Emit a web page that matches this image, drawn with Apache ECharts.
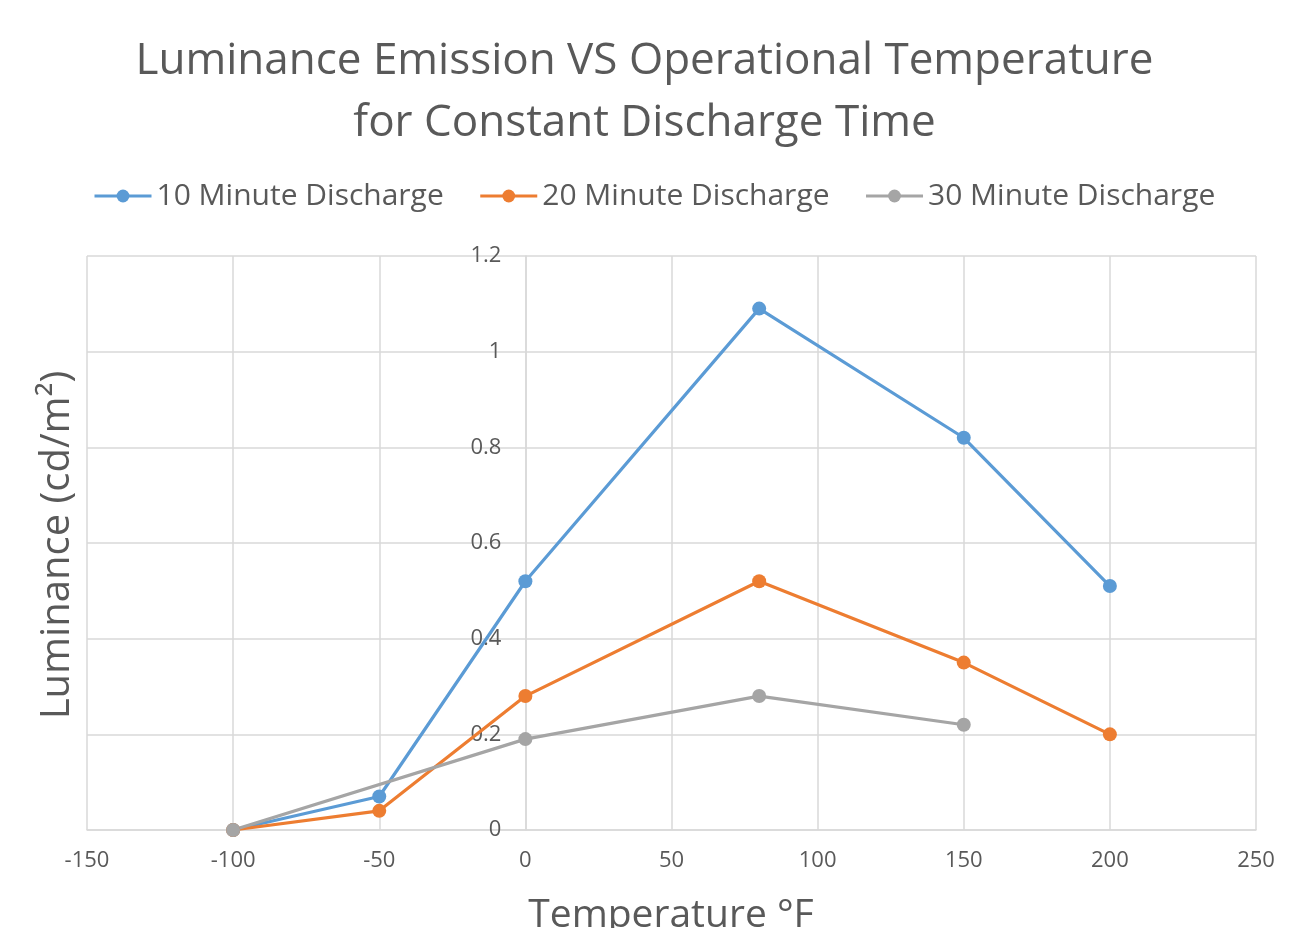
<!DOCTYPE html>
<html>
<head>
<meta charset="utf-8">
<script src="https://cdn.jsdelivr.net/npm/echarts@6/dist/echarts.min.js"></script>
<style>
html,body{margin:0;padding:0;background:#fff;}
#chart{width:1289px;height:928px;}
</style>
</head>
<body>
<div id="chart"></div>
<script>
var seriesNames = ['10 Minute Discharge', '20 Minute Discharge', '30 Minute Discharge'];
var temps10 = [-100, -50, 0, 80, 150, 200];
var lum10 = [0, 0.07, 0.52, 1.09, 0.82, 0.51];
var temps20 = [-100, -50, 0, 80, 150, 200];
var lum20 = [0, 0.04, 0.28, 0.52, 0.35, 0.20];
var temps30 = [-100, 0, 80, 150];
var lum30 = [0, 0.19, 0.28, 0.22];
var colors = ['#5B9BD5', '#ED7D31', '#A5A5A5'];

function pairs(xs, ys) { return xs.map(function (x, i) { return [x, ys[i]]; }); }

var FONT = 'Open Sans';
var chart = echarts.init(document.getElementById('chart'));
var mkSeries = function (name, data, color) {
  return {
    name: name, type: 'line', data: data,
    symbol: 'circle', symbolSize: 14, showSymbol: true,
    lineStyle: { color: color, width: 3.2 },
    itemStyle: { color: color },
    emphasis: { disabled: true },
    animation: false
  };
};
var GRID_LEFT = 87, GRID_RIGHT = 33;
var plotW = 1289 - GRID_LEFT - GRID_RIGHT;
var xMin = -150, xMax = 250;
chart.setOption({
  backgroundColor: '#ffffff',
  animation: false,
  color: colors,
  title: {
    text: 'Luminance Emission VS Operational Temperature\nfor Constant Discharge Time',
    left: 'center', top: 25,
    textStyle: { fontFamily: FONT, fontSize: 44, fontWeight: 'normal', color: '#595959', lineHeight: 62 }
  },
  legend: {
    top: 176, left: 88,
    itemWidth: 57, itemHeight: 16, itemGap: 35,
    lineStyle: { width: 3 },
    textStyle: { fontFamily: FONT, fontSize: 30, color: '#595959' },
    data: seriesNames
  },
  grid: { left: GRID_LEFT, right: GRID_RIGHT, top: 256, bottom: 98, containLabel: false },
  xAxis: {
    type: 'value', min: xMin, max: xMax, interval: 50,
    axisLine: { show: true, lineStyle: { color: '#d9d9d9', width: 1.5 } },
    axisTick: { show: false },
    splitLine: { show: true, lineStyle: { color: '#d9d9d9', width: 1.5 } },
    axisLabel: { fontFamily: FONT, fontSize: 22, color: '#595959', margin: 20 }
  },
  yAxis: {
    type: 'value', min: 0, max: 1.2, interval: 0.2,
    offset: -plotW * (0 - xMin) / (xMax - xMin),
    axisLine: { show: true, onZero: false, lineStyle: { color: '#d9d9d9', width: 1.5 } },
    axisTick: { show: false },
    splitLine: { show: true, lineStyle: { color: '#d9d9d9', width: 1.5 } },
    axisLabel: { fontFamily: FONT, fontSize: 22, color: '#595959', margin: 24 }
  },
  graphic: [
    {
      type: 'text', x: 58, y: 545, rotation: Math.PI / 2,
      style: { text: 'Luminance (cd/m²)', font: '40px "Open Sans"', fill: '#595959', textAlign: 'center', textVerticalAlign: 'middle' }
    },
    {
      type: 'text', x: 671, y: 916,
      style: { text: 'Temperature °F', font: '39px "Open Sans"', fill: '#595959', textAlign: 'center', textVerticalAlign: 'middle' }
    }
  ],
  series: [
    mkSeries(seriesNames[0], pairs(temps10, lum10), colors[0]),
    mkSeries(seriesNames[1], pairs(temps20, lum20), colors[1]),
    mkSeries(seriesNames[2], pairs(temps30, lum30), colors[2])
  ]
});
</script>
</body>
</html>
